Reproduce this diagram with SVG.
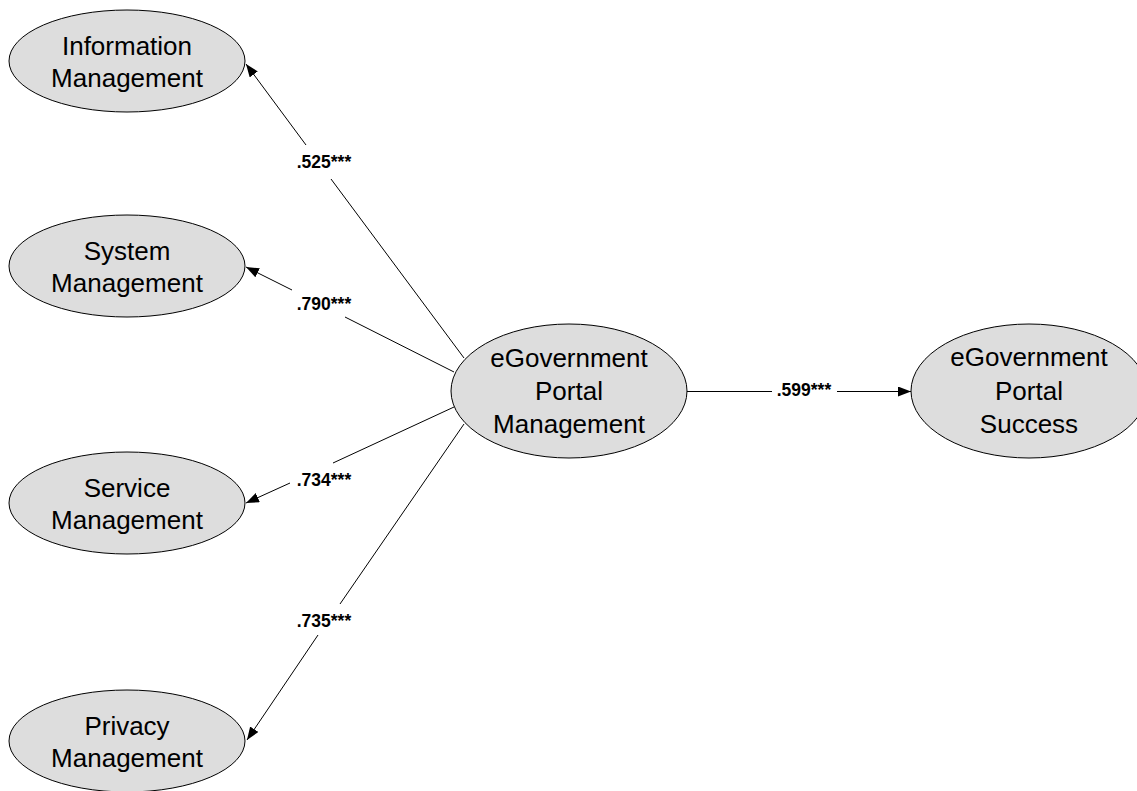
<svg xmlns="http://www.w3.org/2000/svg" width="1137" height="791" viewBox="0 0 1137 791">
<style>
.node ellipse{fill:#dddddd;stroke:#000;stroke-width:1}
.node text{font-family:"Liberation Sans",Arial,sans-serif;font-size:26px;fill:#000;text-anchor:middle}
.conn path{fill:none;stroke:#000;stroke-width:1}
.lbl{font-family:"Liberation Sans",Arial,sans-serif;font-size:17.5px;font-weight:bold;fill:#000;text-anchor:middle}
</style>
<defs>
<marker id="arr" markerUnits="userSpaceOnUse" markerWidth="14" markerHeight="11" refX="13" refY="5" orient="auto">
<path d="M0,0 L13,5 L0,10 z" fill="#000"/>
</marker>
</defs>
<rect width="1137" height="791" fill="#fff"/>
<g id="connectors" class="conn">
<path d="M464,358 L331,179 M306,145 L246,64" marker-end="url(#arr)"/>
<path d="M454,372 L345,317 M292,290 L246,267" marker-end="url(#arr)"/>
<path d="M454,407 L333,463 M290,483 L246,503" marker-end="url(#arr)"/>
<path d="M464,424 L340,604 M318,635 L247,740" marker-end="url(#arr)"/>
<path d="M687,391.5 L772,391.5 M837,391.5 L911,391.5" marker-end="url(#arr)"/>
<text class="lbl" x="324" y="168">.525***</text>
<text class="lbl" x="324" y="310">.790***</text>
<text class="lbl" x="324" y="486">.734***</text>
<text class="lbl" x="324" y="627">.735***</text>
<text class="lbl" x="804" y="396">.599***</text>
</g>
<g id="information-management" class="node">
<ellipse cx="127" cy="61" rx="118" ry="51"/>
<text x="127" y="55">Information</text>
<text x="127" y="87">Management</text>
</g>
<g id="system-management" class="node">
<ellipse cx="127" cy="266" rx="118" ry="51"/>
<text x="127" y="260">System</text>
<text x="127" y="292">Management</text>
</g>
<g id="service-management" class="node">
<ellipse cx="127" cy="503" rx="118" ry="51"/>
<text x="127" y="497">Service</text>
<text x="127" y="529">Management</text>
</g>
<g id="privacy-management" class="node">
<ellipse cx="127" cy="741" rx="118" ry="51"/>
<text x="127" y="735">Privacy</text>
<text x="127" y="767">Management</text>
</g>
<g id="portal-management" class="node">
<ellipse cx="569" cy="391" rx="118" ry="67"/>
<text x="569" y="367">eGovernment</text>
<text x="569" y="400">Portal</text>
<text x="569" y="433">Management</text>
</g>
<g id="portal-success" class="node">
<ellipse cx="1029" cy="391" rx="118" ry="67"/>
<text x="1029" y="366">eGovernment</text>
<text x="1029" y="400">Portal</text>
<text x="1029" y="433">Success</text>
</g>
</svg>
